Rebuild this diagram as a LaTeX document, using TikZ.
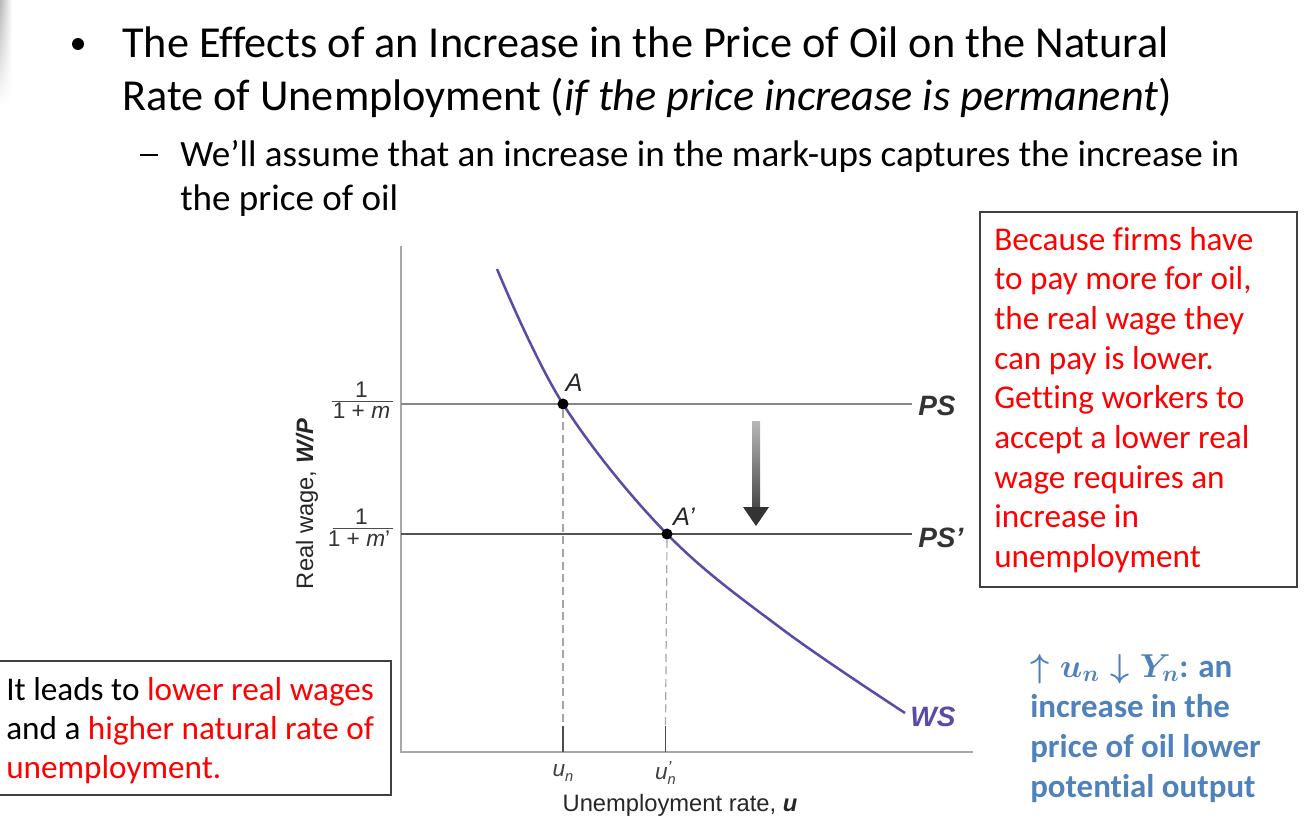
\documentclass[tikz,border=0pt]{standalone}
\usepackage{fontspec}
\setmainfont{Carlito}[Ligatures=NoCommon]
\newfontfamily\hv{Liberation Sans}
\usetikzlibrary{fadings}
\definecolor{wsc}{HTML}{5B4BA8}
\definecolor{bluet}{HTML}{4F81BD}
\definecolor{redt}{HTML}{FF0000}
\definecolor{axisg}{HTML}{A8A8A8}
\definecolor{boxg}{HTML}{404040}
\tikzset{
  line/.style={anchor=base west, inner sep=0pt},
  ttl/.style={line, font=\fontsize{33.2}{40}\selectfont},
  sub/.style={line, font=\fontsize{27.8}{34}\selectfont},
  body/.style={line, font=\fontsize{24.9}{30}\selectfont},
  bbody/.style={line, font=\fontsize{24.7}{30}\selectfont\bfseries\boldmath, text=bluet},
  glab/.style={inner sep=0pt, font=\hv\fontsize{17.8}{20}\selectfont, text=black!85},
  curvelab/.style={inner sep=0pt, font=\hv\bfseries\itshape\fontsize{21}{24}\selectfont},
  ptlab/.style={inner sep=0pt, font=\hv\itshape\fontsize{19}{22}\selectfont, text=black!85},
  frac/.style={inner sep=0pt, font=\hv\fontsize{17}{19}\selectfont, text=black!80},
  ulab/.style={inner sep=0pt, font=\hv\itshape\fontsize{17}{19}\selectfont, text=black!75},
  dot/.style={circle, fill=black, inner sep=0pt, minimum size=8.3pt},
  psline/.style={draw=black!47, line width=1.8pt},
  pspline/.style={draw=black!67, line width=2.2pt},
  guide/.style={draw=black!35, line width=0.9pt, dash pattern=on 6pt off 3.5pt},
  tick/.style={draw=black!70, line width=1.2pt},
  framebox/.style={draw=boxg, line width=1.1pt},
}
\begin{document}
\begin{tikzpicture}[x=0.75pt,y=-0.75pt]
\useasboundingbox (0,0) rectangle (1305,824);
% slide edge shadow
\shade[left color=black!28, right color=white, path fading=south] (0,0) rectangle (12,105);

% title
\fill[black] (78,44) circle (6);
\node[ttl] (t1) at (122,58) {The Effects of an Increase in the Price of Oil on the Natural};
\node[ttl] (t2) at (122,110) {Rate of Unemployment (\textit{if the price increase is permanent})};
\node[sub] (dash) at (140,166) {\raisebox{0.27em}{\rule{13.5pt}{1.3pt}}};
\node[sub] (s1) at (180,166) {We’ll assume that an increase in the mark-ups captures the increase in};
\node[sub] (s2) at (180,210) {the price of oil};

% axes
\coordinate (ytop) at (401,246);
\coordinate (orig) at (401,752);
\coordinate (xend) at (973,752);
\draw[axisg, line width=1.8pt] (ytop) -- (orig) -- (xend);

% PS lines
\node[curvelab, anchor=west, text=black!80] (PS) at (918,406) {PS};
\node[curvelab, anchor=west, text=black!80] (PSp) at (918,538) {PS’};
\coordinate (ps0) at (401,404);
\coordinate (psp0) at (401,534);
\coordinate (ps1) at (912,404);
\coordinate (psp1) at (912,534);
\draw[psline] (ps0) -- (ps1);
\draw[pspline] (psp0) -- (psp1);

% fraction labels
\node[frac] (n1) at (361.5,390) {1};
\node[frac] (d1) at (361.5,411) {1 + \textit{m}};
\draw[black!70, line width=1pt] (331.5,401.5) -- (392.5,401.5);
\node[frac] (n2) at (361.5,517) {1};
\node[frac] (d2) at (359,539) {1 + \textit{m}’};
\draw[black!70, line width=1pt] (332.5,528.5) -- (392.5,528.5);

% y label
\node[glab, rotate=90] (ylab) at (307,504) {Real wage, \textbf{\textit{W/P}}};

% WS curve
\draw[wsc, line width=1.9pt] plot[smooth, tension=0.6] coordinates {(497,269) (563,404) (667,534) (782,629) (905,713)};
\node[curvelab, text=wsc] (WS) at (933,717) {WS};

% equilibrium points
\node[dot] (A) at (563,404) {};
\node[dot] (Ap) at (667,534) {};
\node[ptlab] (Alab) at (574,383) {A};
\node[ptlab] (Aplab) at (684,517) {A’};

% guides and ticks
\coordinate (gA) at (563,726);
\coordinate (bA) at (563,752);
\coordinate (gAp) at (665.5,726);
\coordinate (bAp) at (665.5,752);
\draw[guide] (A) -- (gA);
\draw[guide] (Ap.south) -- (gAp);
\draw[tick] (gA) -- (bA);
\draw[tick] (gAp) -- (bAp);

% x labels
\node[ulab] (un) at (563,773) {u\raisebox{-0.4ex}{\fontsize{11}{12}\selectfont n}};
\node[ulab] (unp) at (665.5,773) {u\rlap{\raisebox{0.5ex}{\fontsize{13}{13}\selectfont ’}}\raisebox{-0.4ex}{\fontsize{11}{12}\selectfont n}};
\node[glab] (xlab) at (680,805) {Unemployment rate, \textbf{\textit{u}}};

% shift arrow
\shade[top color=black!28, bottom color=black!72] (752,421) rectangle (760,509);
\fill[black!80] (743,507) -- (769,507) -- (756,526) -- cycle;

% right explanation box
\draw[framebox] (980,212) rectangle (1297,587);
\foreach \t [count=\i from 0] in {Because firms have, {to pay more for oil,}, the real wage they, can pay is lower., Getting workers to, accept a lower real, wage requires an, increase in, unemployment}
  \node[body, text=redt] (r\i) at (994,250+39.7*\i) {\t};

% left box
\draw[framebox] (-3,661) rectangle (391,795);
\node[body] (l1) at (6,700) {It leads to \textcolor{redt}{lower real wages}};
\node[body] (l2) at (6,739) {and a \textcolor{redt}{higher natural rate of}};
\node[body, text=redt] (l3) at (6,778) {unemployment.};

% blue note
\node[bbody] (b1) at (1030,677) {$\uparrow u_{n} \downarrow Y_{n}$: an};
\node[bbody] (b2) at (1030,717) {increase in the};
\node[bbody] (b3) at (1030,757) {price of oil lower};
\node[bbody] (b4) at (1030,797) {potential output};
\end{tikzpicture}
\end{document}
